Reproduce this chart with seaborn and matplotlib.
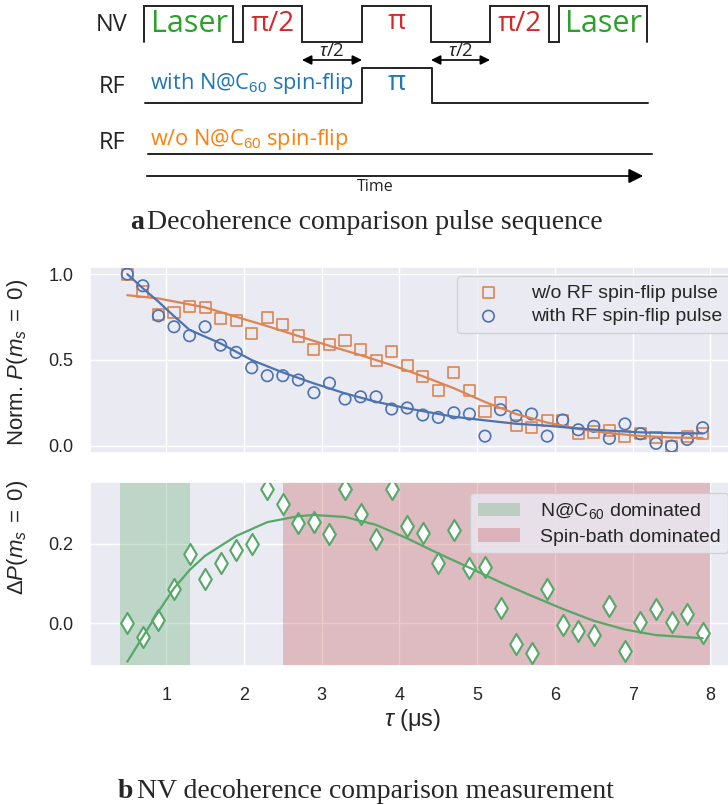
import numpy as np
import pandas as pd
import matplotlib
matplotlib.use("Agg")
import matplotlib.pyplot as plt
import seaborn as sns

# ---------------- data ----------------
tau = [0.5, 0.7, 0.9, 1.1, 1.3, 1.5, 1.7, 1.9, 2.1, 2.3, 2.5, 2.7, 2.9, 3.1,
       3.3, 3.5, 3.7, 3.9, 4.1, 4.3, 4.5, 4.7, 4.9, 5.1, 5.3, 5.5, 5.7, 5.9,
       6.1, 6.3, 6.5, 6.7, 6.9, 7.1, 7.3, 7.5, 7.7, 7.9]

p_without = [1.000, 0.897, 0.765, 0.777, 0.812, 0.806, 0.742, 0.728, 0.655, 0.748,
             0.707, 0.639, 0.559, 0.590, 0.614, 0.561, 0.497, 0.551, 0.466, 0.402,
             0.323, 0.427, 0.324, 0.200, 0.252, 0.120, 0.105, 0.146, 0.145, 0.072,
             0.080, 0.090, 0.052, 0.072, 0.048, -0.003, 0.055, 0.070]

p_with = [1.000, 0.932, 0.757, 0.693, 0.641, 0.693, 0.586, 0.544, 0.454, 0.408,
          0.408, 0.383, 0.309, 0.365, 0.272, 0.285, 0.285, 0.214, 0.220, 0.179,
          0.165, 0.192, 0.185, 0.056, 0.210, 0.174, 0.185, 0.056, 0.150, 0.093,
          0.113, 0.043, 0.127, 0.070, 0.014, -0.002, 0.037, 0.105]

delta_p = [0.000, -0.036, 0.009, 0.086, 0.174, 0.111, 0.153, 0.185, 0.200, 0.338,
           0.300, 0.254, 0.255, 0.226, 0.338, 0.276, 0.213, 0.338, 0.245, 0.227,
           0.151, 0.235, 0.139, 0.141, 0.039, -0.052, -0.074, 0.086, -0.004, -0.019,
           -0.029, 0.044, -0.070, 0.003, 0.035, 0.002, 0.023, -0.024]

# fitted curves
fit_tau_without = [0.5, 0.9, 1.5, 1.9, 2.3, 2.7, 3.1, 3.5, 3.9, 4.3, 4.7, 5.1,
                   5.5, 5.9, 6.3, 6.7, 7.1, 7.5, 7.9]
fit_without = [0.877, 0.858, 0.806, 0.751, 0.697, 0.639, 0.582, 0.528, 0.470, 0.405,
               0.335, 0.255, 0.185, 0.135, 0.098, 0.073, 0.057, 0.048, 0.045]

fit_tau_with = [0.5, 0.7, 0.9, 1.1, 1.3, 1.7, 2.1, 2.5, 2.9, 3.3, 3.7, 4.1, 4.7,
                5.1, 5.5, 5.9, 6.3, 6.7, 7.1, 7.5, 7.9]
fit_with = [1.000, 0.917, 0.839, 0.755, 0.675, 0.596, 0.499, 0.427, 0.363, 0.305,
            0.256, 0.218, 0.169, 0.148, 0.128, 0.117, 0.100, 0.088, 0.078, 0.074, 0.072]

fit_tau_delta = [0.5, 0.7, 0.9, 1.1, 1.3, 1.5, 1.9, 2.3, 2.7, 2.9, 3.3, 3.7, 4.1,
                 4.5, 4.9, 5.3, 5.7, 6.1, 6.5, 6.9, 7.3, 7.9]
fit_delta = [-0.097, -0.034, 0.029, 0.088, 0.134, 0.170, 0.220, 0.255, 0.270, 0.273,
             0.268, 0.248, 0.214, 0.176, 0.140, 0.103, 0.069, 0.036, 0.006, -0.016,
             -0.030, -0.038]

span_nc60 = (0.4, 1.3)
span_bath = (2.5, 8.0)

top_yticks = [0.0, 0.5, 1.0]
bottom_yticks = [0.0, 0.2]
xticks = [1, 2, 3, 4, 5, 6, 7, 8]

label_without = "w/o RF spin-flip pulse"
label_with = "with RF spin-flip pulse"
label_nc60 = "N@C$_{60}$ dominated"
label_bath = "Spin-bath dominated"

# pulse-sequence schematic (pixel layout of the drawing)
nv_edges = [144, 233, 243, 302, 362, 431, 490, 549, 559, 647]
rf_edges = [145, 362, 432, 648]

# ---------------- style ----------------
sns.set_theme(style="darkgrid")
plt.rcParams["font.family"] = ["Liberation Sans", "DejaVu Sans"]
plt.rcParams["mathtext.fontset"] = "custom"
plt.rcParams["mathtext.rm"] = "Liberation Sans"
plt.rcParams["mathtext.it"] = "Liberation Sans:italic"
plt.rcParams["mathtext.bf"] = "Liberation Sans:bold"

pal = sns.color_palette("deep")
c_blue, c_orange, c_green, c_red = pal[0], pal[1], pal[2], pal[3]

W, H = 728, 805
fig = plt.figure(figsize=(W / 100, H / 100), dpi=100)

# ---------------- schematic ----------------
axd = fig.add_axes([0, 0, 1, 1])
axd.set_xlim(0, W)
axd.set_ylim(H, 0)
axd.axis("off")

hi, lo = 6, 42
xs, ys = [], []
pairs = [(nv_edges[i], nv_edges[i + 1]) for i in range(0, len(nv_edges), 2)]
for a, b in pairs:
    xs += [a, a, b, b]
    ys += [lo, hi, hi, lo]
axd.plot(xs, ys, color="#222222", lw=1.4, solid_joinstyle="miter")

rf_lo, rf_hi = 103, 68
axd.plot([rf_edges[0], rf_edges[1], rf_edges[1], rf_edges[2], rf_edges[2], rf_edges[3]],
         [rf_lo, rf_lo, rf_hi, rf_hi, rf_lo, rf_lo], color="#222222", lw=1.4)
axd.plot([148, 652], [154, 154], color="#222222", lw=1.4)

axd.annotate("", xy=(646, 176), xytext=(144, 176),
             arrowprops=dict(arrowstyle="-|>", color="black", lw=1.2, mutation_scale=22))
sfam = ["Open Sans", "DejaVu Sans"]
for a, b in [(pairs[1][1], pairs[2][0]), (pairs[2][1], pairs[3][0])]:
    axd.annotate("", xy=(b, 60), xytext=(a, 60),
                 arrowprops=dict(arrowstyle="<|-|>", color="black", lw=1.2,
                                 mutation_scale=14, shrinkA=0, shrinkB=0))
    axd.text((a + b) / 2, 51, r"$\tau$/2", ha="center", va="center", fontsize=13.5,
             family=sfam, color="#222222")

axd.text(112, 25, "NV", ha="center", va="center", fontsize=17, family=sfam, color="#222222")
axd.text(112, 87, "RF", ha="center", va="center", fontsize=17, family=sfam, color="#222222")
axd.text(112, 143, "RF", ha="center", va="center", fontsize=17, family=sfam, color="#222222")
green_t, red_t, blue_t, orange_t = "#2ca02c", "#d62728", "#1f77b4", "#ff7f0e"
axd.text(189, 24, "Laser", ha="center", va="center", fontsize=22, family=sfam, color=green_t)
axd.text(273, 24, "π/2", ha="center", va="center", fontsize=20, family=sfam, color=red_t)
axd.text(397, 22, "π", ha="center", va="center", fontsize=20, family=sfam, color=red_t)
axd.text(520, 24, "π/2", ha="center", va="center", fontsize=20, family=sfam, color=red_t)
axd.text(603, 24, "Laser", ha="center", va="center", fontsize=22, family=sfam, color=green_t)
axd.text(397, 83, "π", ha="center", va="center", fontsize=20, family=sfam, color=blue_t)
axd.text(150, 84, "with N@C$_{60}$ spin-flip", ha="left", va="center", fontsize=15.7,
         family=sfam, color=blue_t)
axd.text(150, 139, "w/o N@C$_{60}$ spin-flip", ha="left", va="center", fontsize=15.7,
         family=sfam, color=orange_t)
axd.text(375, 187, "Time", ha="center", va="center", fontsize=11.5, family=sfam, color="#222222")

serif = ["Liberation Serif", "DejaVu Serif"]
axd.text(130, 229, "a", ha="left", va="baseline", fontsize=20, family=serif, weight="bold")
axd.text(147, 229, "Decoherence comparison pulse sequence", ha="left", va="baseline",
         fontsize=20, family=serif)
axd.text(118, 798, "b", ha="left", va="baseline", fontsize=20, family=serif, weight="bold")
axd.text(137, 798, "NV decoherence comparison measurement", ha="left", va="baseline",
         fontsize=20, family=serif)

# ---------------- data axes ----------------
ax1 = fig.add_axes([90 / W, 1 - 453.3 / H, 650 / W, 186.6 / H])
ax2 = fig.add_axes([90 / W, 1 - 666 / H, 650 / W, 184.3 / H], sharex=ax1)

df = pd.DataFrame({"tau": tau, "without": p_without, "with": p_with, "delta": delta_p})

sns.lineplot(x=fit_tau_without, y=fit_without, ax=ax1, color=c_orange, lw=1.6)
sns.lineplot(x=fit_tau_with, y=fit_with, ax=ax1, color=c_blue, lw=1.6)
sns.scatterplot(data=df, x="tau", y="without", ax=ax1, marker="s", s=64,
                facecolor="none", edgecolor=c_orange, linewidth=1.2, label=label_without)
sns.scatterplot(data=df, x="tau", y="with", ax=ax1, marker="o", s=68,
                facecolor="none", edgecolor=c_blue, linewidth=1.2, label=label_with)

ax2.axvspan(*span_nc60, color=c_green, alpha=0.3, lw=0, label=label_nc60)
ax2.axvspan(*span_bath, color=c_red, alpha=0.3, lw=0, label=label_bath)
sns.lineplot(x=fit_tau_delta, y=fit_delta, ax=ax2, color=c_green, lw=1.6)
sns.scatterplot(data=df, x="tau", y="delta", ax=ax2, marker="d", s=115,
                facecolor="white", edgecolor=c_green, linewidth=1.5)

ax1.set_xlim(0.02, 8.38)
ax1.set_ylim(-0.044, 1.043)
ax2.set_ylim(-0.108, 0.357)
ax1.set_yticks(top_yticks)
ax2.set_yticks(bottom_yticks)
ax2.set_xticks(xticks)
ax1.tick_params(axis="x", labelbottom=False, length=0)
ax1.tick_params(axis="y", labelsize=13, length=0, pad=12)
ax2.tick_params(axis="y", labelsize=13, length=0, pad=12)
ax2.tick_params(axis="x", labelsize=13, length=0, pad=15)
ax1.set_xlabel("")
ax1.set_ylabel(r"Norm. $P(m_s\;=\;0)$", fontsize=16)
ax2.set_ylabel(r"$\Delta P(m_s\;=\;0)$", fontsize=16)
ax2.set_xlabel(r"$\tau$ (μs)", fontsize=17)
ax1.yaxis.set_label_coords(-0.092, 0.487)
ax2.yaxis.set_label_coords(-0.092, 0.695)
ax2.xaxis.set_label_coords(0.497, -0.225)

ax1.legend(loc="upper right", fontsize=14, handlelength=2.4, handletextpad=1.0,
           labelspacing=0.3, borderaxespad=0.5)
h, l = ax2.get_legend_handles_labels()
ax2.legend(h[:2], l[:2], loc="upper right", fontsize=14, handlelength=2.2,
           handletextpad=1.0, labelspacing=0.35, borderaxespad=0.6)

fig.savefig("out.png", dpi=100)
